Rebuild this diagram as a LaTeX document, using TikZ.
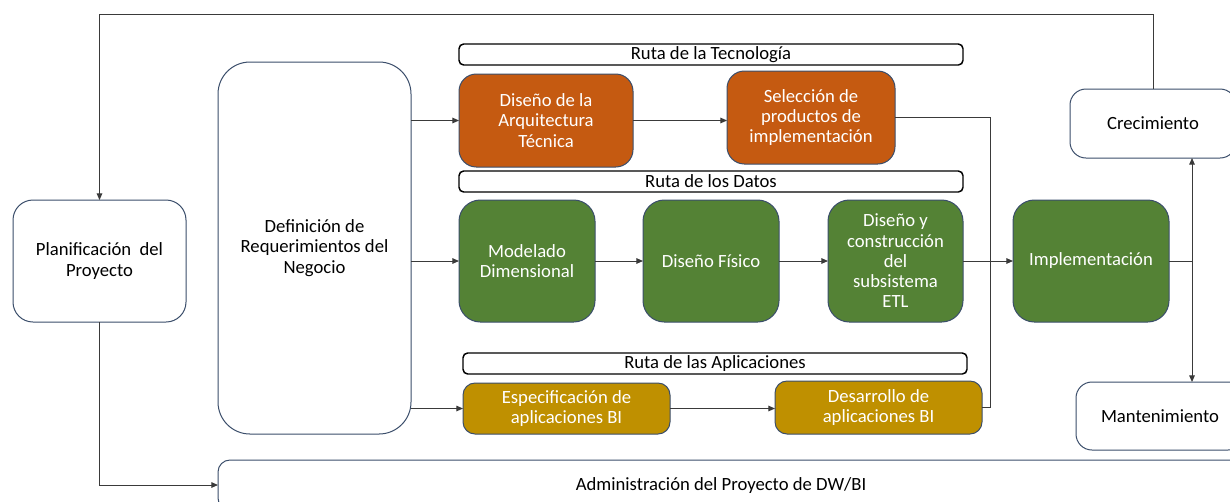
\documentclass[tikz,border=0pt]{standalone}
\usepackage{fontspec}
\setmainfont{Carlito}
\usetikzlibrary{arrows.meta}
\definecolor{orng}{HTML}{C55A11}
\definecolor{grn}{HTML}{548235}
\definecolor{gld}{HTML}{BF9000}
\definecolor{edge}{HTML}{3B4E6B}
\definecolor{conn}{HTML}{3A3A3A}
\newcommand\bx[7]{\node[#2, minimum width={(#5-#3)*0.75pt}, minimum height={(#6-#4)*0.75pt}] (#1) at ({(#3+#5)/2},{(#4+#6)/2}) {#7};}
\tikzset{
  base/.style={rectangle, inner sep=0pt, outer sep=0pt, align=center,
    font=\fontsize{14}{15.2}\selectfont, line width=0.75pt},
  wbox/.style={base, draw=edge, fill=white, text=black},
  obox/.style={base, draw=edge, fill=orng, text=white, rounded corners=13pt},
  gbox/.style={base, draw=edge, fill=grn, text=white, rounded corners=16pt},
  ybox/.style={base, draw=edge, fill=gld, text=white, rounded corners=9pt},
  bar/.style={base, draw=black, fill=white, line width=1.1pt, rounded corners=3.5pt},
  lbl/.style={base, text=black},
  cn/.style={draw=conn, line width=0.75pt},
  arr/.style={cn, -{Triangle[length=5pt,width=4.2pt]}}
}
\begin{document}
\begin{tikzpicture}[x=0.75pt,y=-0.75pt]
\useasboundingbox (0,0) rectangle (1230,501);
\clip (0,0) rectangle (1230,501);
\fill[white] (0,0) rectangle (1230,501);
% white boxes
\bx{plan}{wbox, rounded corners=15pt}{13}{200}{186}{322}{Planificación\ \ del\\Proyecto}
\bx{def}{wbox, rounded corners=24pt}{218}{62}{411}{434}{Definición de\\Requerimientos del\\Negocio}
\bx{admin}{wbox, rounded corners=9pt}{218}{460}{1250}{510}{}
\node[lbl] (admintext) at (721,486) {Administración del Proyecto de DW/BI};
\bx{crec}{wbox, rounded corners=12pt}{1070}{89}{1236}{158}{Crecimiento}
\bx{mant}{wbox, rounded corners=12pt}{1076}{382}{1244}{450}{Mantenimiento}
% bars
\bx{rtec}{bar}{459}{44}{963}{65}{Ruta de la Tecnología}
\bx{rdat}{bar}{459}{171}{963}{192}{Ruta de los Datos}
\bx{rapp}{bar}{463}{353}{967}{374}{Ruta de las Aplicaciones}
% technology
\bx{arq}{obox}{459}{74}{633}{167}{Diseño de la\\Arquitectura\\Técnica}
\bx{sel}{obox}{727}{71}{895}{164}{Selección de\\productos de\\implementación}
% data
\bx{mod}{gbox}{459}{200}{595}{322}{Modelado\\Dimensional}
\bx{fis}{gbox}{643}{200}{779}{322}{Diseño Físico}
\bx{etl}{gbox}{828}{200}{963}{322}{Diseño y\\construcción\\del\\subsistema\\ETL}
\bx{impl}{gbox}{1013}{200}{1169}{322}{Implementación}
% applications
\bx{esp}{ybox}{463}{383}{670}{434}{Especificación de\\aplicaciones BI}
\bx{des}{ybox}{775}{381}{982}{434}{Desarrollo de\\aplicaciones BI}
% junction coordinates
\coordinate (top) at (0,14);
\coordinate (j1) at (990,0);
\coordinate (j2) at (1192,261);
% connectors
\draw[arr] (crec.north) -- (crec.north |- top) -| (plan.north);
\draw[arr] (plan.south) |- (admin.west);
\draw[arr] (def.east |- arq.west) -- (arq.west);
\draw[arr] (def.east |- mod.west) -- (mod.west);
\draw[arr] (def.east |- esp.west) -- (esp.west);
\draw[arr] (arq.east) -- (arq.east -| sel.west);
\draw[cn] (sel.east) -- (sel.east -| j1) -- (j1 |- des.east) -- (des.east);
\draw[arr] (mod.east) -- (fis.west);
\draw[arr] (fis.east) -- (etl.west);
\draw[arr] (etl.east) -- (impl.west);
\draw[arr] (esp.east) -- (esp.east -| des.west);
\draw[cn] (impl.east) -- (j2);
\draw[arr] (j2) -- (crec.south -| j2);
\draw[arr] (j2) -- (mant.north -| j2);
\end{tikzpicture}
\end{document}
